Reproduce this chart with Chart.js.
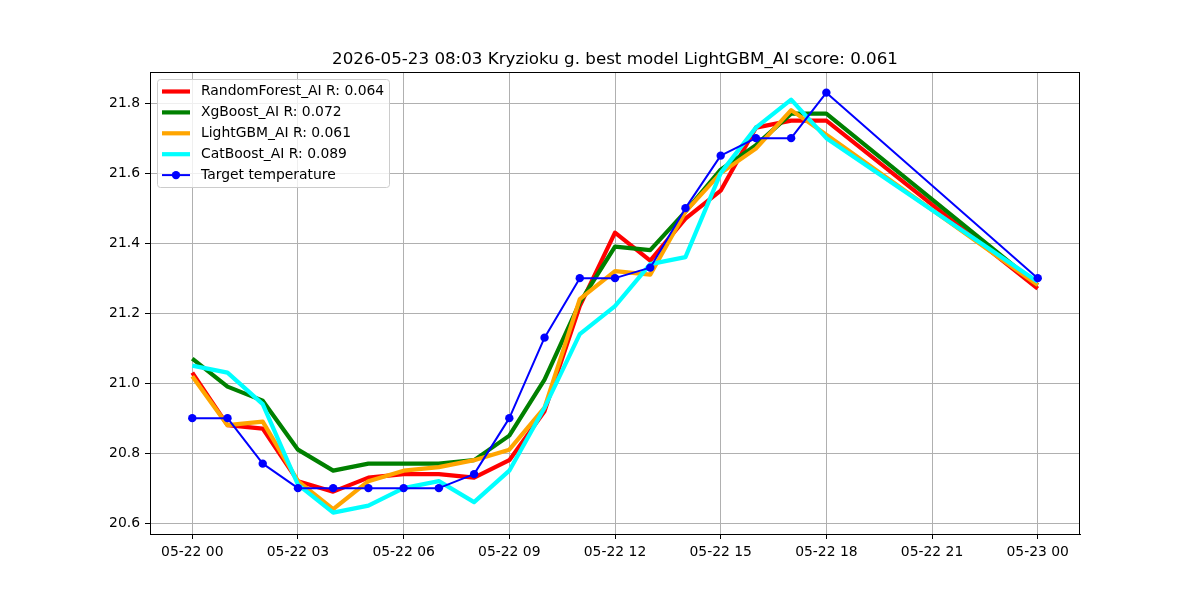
<!DOCTYPE html>
<html>
<head>
<meta charset="utf-8">
<script src="https://cdn.jsdelivr.net/npm/chart.js@4.4.0/dist/chart.umd.min.js"></script>
<style>
  html, body { margin: 0; padding: 0; background: #fff; }
  #wrap { width: 1200px; height: 600px; }
</style>
</head>
<body>
<div id="wrap"><canvas id="chart" width="1200" height="600"></canvas></div>
<script>
// hours since 2026-05-22 00:00
const hours = [0, 1, 2, 3, 4, 5, 6, 7, 8, 9, 10, 11, 12, 13, 14, 15, 16, 17, 18, 24];

const randomForest = [21.03, 20.88, 20.87, 20.72, 20.69, 20.73, 20.74, 20.74, 20.73, 20.78, 20.92, 21.22, 21.43, 21.35, 21.47, 21.55, 21.73, 21.75, 21.75, 21.27];
const xgBoost      = [21.07, 20.99, 20.95, 20.81, 20.75, 20.77, 20.77, 20.77, 20.78, 20.85, 21.01, 21.23, 21.39, 21.38, 21.49, 21.61, 21.68, 21.77, 21.77, 21.28];
const lightGBM     = [21.02, 20.88, 20.89, 20.72, 20.64, 20.72, 20.75, 20.76, 20.78, 20.81, 20.93, 21.24, 21.32, 21.31, 21.49, 21.60, 21.67, 21.78, 21.71, 21.28];
const catBoost     = [21.05, 21.03, 20.94, 20.71, 20.63, 20.65, 20.70, 20.72, 20.66, 20.75, 20.93, 21.14, 21.22, 21.34, 21.36, 21.60, 21.73, 21.81, 21.70, 21.29];
const target       = [20.90, 20.90, 20.77, 20.70, 20.70, 20.70, 20.70, 20.70, 20.74, 20.90, 21.13, 21.30, 21.30, 21.33, 21.50, 21.65, 21.70, 21.70, 21.83, 21.30];

const xTickHours = [0, 3, 6, 9, 12, 15, 18, 21, 24];
const xTickLabels = ['05-22 00', '05-22 03', '05-22 06', '05-22 09', '05-22 12', '05-22 15', '05-22 18', '05-22 21', '05-23 00'];
const yTicks = [20.6, 20.8, 21.0, 21.2, 21.4, 21.6, 21.8];

const titleText = '2026-05-23 08:03 Kryzioku g. best model LightGBM_AI score: 0.061';
const FONT = '"DejaVu Sans", sans-serif';

const toPoints = (vals) => vals.map((v, i) => ({ x: hours[i], y: v }));

// title, frame and legend drawn the matplotlib way
const extras = {
    id: 'extras',
    afterDraw(chart) {
        const ctx = chart.ctx;
        const a = chart.chartArea;
        ctx.save();
        // axes frame
        ctx.strokeStyle = '#000';
        ctx.lineWidth = 1;
        ctx.strokeRect(a.left + 0.5, a.top + 0.5, a.right - a.left - 1, a.bottom - a.top);
        // title
        ctx.fillStyle = '#000';
        ctx.font = '16.7px ' + FONT;
        ctx.textAlign = 'center';
        ctx.textBaseline = 'alphabetic';
        ctx.fillText(titleText, (a.left + a.right) / 2, a.top - 8);
        // legend
        const bx = 157.5, by = 79.5, bw = 232, bh = 108;
        ctx.beginPath();
        ctx.roundRect(bx, by, bw, bh, 3);
        ctx.fillStyle = 'rgba(255,255,255,0.8)';
        ctx.fill();
        ctx.strokeStyle = '#cccccc';
        ctx.stroke();
        ctx.font = '13.9px ' + FONT;
        ctx.textAlign = 'left';
        ctx.textBaseline = 'middle';
        chart.data.datasets.forEach((ds, i) => {
            const y = 91.5 + i * 20.9;
            ctx.strokeStyle = ds.borderColor;
            ctx.lineWidth = ds.borderWidth;
            ctx.beginPath();
            ctx.moveTo(162, y);
            ctx.lineTo(190, y);
            ctx.stroke();
            if (ds.pointRadius > 0) {
                ctx.fillStyle = ds.pointBackgroundColor;
                ctx.beginPath();
                ctx.arc(176, y, ds.pointRadius, 0, Math.PI * 2);
                ctx.fill();
            }
            ctx.fillStyle = '#000';
            ctx.fillText(ds.label, 201, y);
        });
        ctx.restore();
    }
};

new Chart(document.getElementById('chart'), {
    type: 'line',
    plugins: [extras],
    data: {
        datasets: [
            { label: 'RandomForest_AI R: 0.064', data: toPoints(randomForest), borderColor: '#ff0000', borderWidth: 4.2, pointRadius: 0, order: 5 },
            { label: 'XgBoost_AI R: 0.072', data: toPoints(xgBoost), borderColor: '#008000', borderWidth: 4.2, pointRadius: 0, order: 4 },
            { label: 'LightGBM_AI R: 0.061', data: toPoints(lightGBM), borderColor: '#ffa500', borderWidth: 4.2, pointRadius: 0, order: 3 },
            { label: 'CatBoost_AI R: 0.089', data: toPoints(catBoost), borderColor: '#00ffff', borderWidth: 4.2, pointRadius: 0, order: 2 },
            { label: 'Target temperature', data: toPoints(target), borderColor: '#0000ff', borderWidth: 2, pointRadius: 4.2,
              pointBackgroundColor: '#0000ff', pointBorderColor: '#0000ff', pointBorderWidth: 0, order: 1 },
        ],
    },
    options: {
        responsive: false,
        animation: false,
        events: [],
        layout: { padding: { left: 0, right: 120, top: 72, bottom: 0 } },
        elements: { line: { tension: 0, borderJoinStyle: 'round', borderCapStyle: 'butt' } },
        plugins: {
            legend: { display: false },
            title: { display: false },
            tooltip: { enabled: false },
        },
        scales: {
            x: {
                type: 'linear',
                min: -1.2,
                max: 25.2,
                afterFit: (s) => { s.height = 66; },
                afterBuildTicks: (s) => { s.ticks = xTickHours.map(v => ({ value: v })); },
                grid: { color: '#b0b0b0', lineWidth: 1, tickColor: '#000', tickLength: 5 },
                border: { color: '#000', width: 1 },
                ticks: {
                    color: '#000',
                    padding: 5,
                    maxRotation: 0,
                    autoSkip: false,
                    font: { family: FONT, size: 13.9 },
                    callback: (v) => xTickLabels[xTickHours.indexOf(v)],
                },
            },
            y: {
                min: 20.569,
                max: 21.889,
                afterFit: (s) => { s.width = 150; },
                afterBuildTicks: (s) => { s.ticks = yTicks.map(v => ({ value: v })); },
                grid: { color: '#b0b0b0', lineWidth: 1, tickColor: '#000', tickLength: 5 },
                border: { color: '#000', width: 1 },
                ticks: {
                    color: '#000',
                    padding: 5,
                    font: { family: FONT, size: 13.9 },
                    callback: (v) => v.toFixed(1),
                },
            },
        },
    },
});
</script>
</body>
</html>
